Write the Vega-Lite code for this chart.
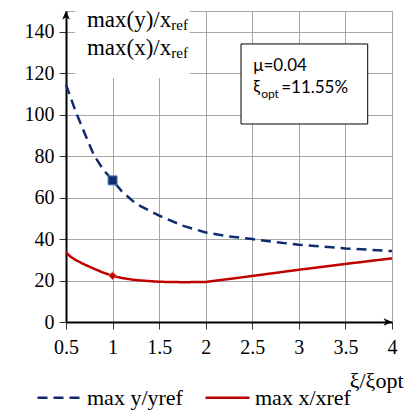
{
  "$schema": "https://vega.github.io/schema/vega-lite/v6.json",
  "width": 326,
  "height": 311,
  "autosize": {"type": "none"},
  "padding": {"left": 66, "top": 11, "right": 14, "bottom": 88},
  "background": "white",
  "view": {"stroke": "#a6a6a6", "strokeWidth": 1},
  "config": {
    "view": {"stroke": "#a6a6a6", "strokeWidth": 1},
    "font": "Liberation Serif",
    "style": {"guide-label": {"font": "Liberation Serif"}, "guide-title": {"font": "Liberation Serif"}},
    "axis": {"labelFont": "Liberation Serif", "titleFont": "Liberation Serif"},
    "legend": {"labelFont": "Liberation Serif"}
  },
  "datasets": {
    "curves": [
      {"r": 0.5, "v": 114.5, "s": "max y/yref"},
      {"r": 0.6, "v": 102, "s": "max y/yref"},
      {"r": 0.7, "v": 91, "s": "max y/yref"},
      {"r": 0.8, "v": 80.5, "s": "max y/yref"},
      {"r": 0.9, "v": 73.5, "s": "max y/yref"},
      {"r": 1.0, "v": 68.3, "s": "max y/yref"},
      {"r": 1.1, "v": 63, "s": "max y/yref"},
      {"r": 1.25, "v": 57, "s": "max y/yref"},
      {"r": 1.5, "v": 51.3, "s": "max y/yref"},
      {"r": 1.75, "v": 46.5, "s": "max y/yref"},
      {"r": 2.0, "v": 43.2, "s": "max y/yref"},
      {"r": 2.25, "v": 41.3, "s": "max y/yref"},
      {"r": 2.5, "v": 40, "s": "max y/yref"},
      {"r": 2.75, "v": 38.5, "s": "max y/yref"},
      {"r": 3.0, "v": 37.3, "s": "max y/yref"},
      {"r": 3.5, "v": 35.5, "s": "max y/yref"},
      {"r": 4.0, "v": 34.2, "s": "max y/yref"},
      {"r": 0.5, "v": 33.5, "s": "max x/xref"},
      {"r": 0.55, "v": 31.5, "s": "max x/xref"},
      {"r": 0.6, "v": 30, "s": "max x/xref"},
      {"r": 0.7, "v": 27.7, "s": "max x/xref"},
      {"r": 0.8, "v": 25.7, "s": "max x/xref"},
      {"r": 0.9, "v": 23.8, "s": "max x/xref"},
      {"r": 1.0, "v": 22.3, "s": "max x/xref"},
      {"r": 1.1, "v": 21.2, "s": "max x/xref"},
      {"r": 1.25, "v": 20.2, "s": "max x/xref"},
      {"r": 1.5, "v": 19.4, "s": "max x/xref"},
      {"r": 1.75, "v": 19.2, "s": "max x/xref"},
      {"r": 2.0, "v": 19.3, "s": "max x/xref"},
      {"r": 2.5, "v": 22.2, "s": "max x/xref"},
      {"r": 3.0, "v": 25.2, "s": "max x/xref"},
      {"r": 3.5, "v": 28, "s": "max x/xref"},
      {"r": 4.0, "v": 30.7, "s": "max x/xref"}
    ],
    "marks": [
      {"r": 1.0, "v": 68.3, "s": "max y/yref"},
      {"r": 1.0, "v": 22.3, "s": "max x/xref"}
    ],
    "one": [{}]
  },
  "layer": [
    {
      "data": {"name": "curves"},
      "mark": {"type": "line", "strokeWidth": 2.5, "interpolate": "linear", "opacity": 0},
      "encoding": {
        "x": {"field": "r", "type": "quantitative", "scale": {"domain": [0.5, 4], "nice": false, "zero": false},
              "axis": {"values": [0.5, 1, 1.5, 2, 2.5, 3, 3.5, 4], "format": "~g", "grid": true, "gridColor": "#a6a6a6", "gridWidth": 1, "gridOpacity": 1,
                       "domain": true, "domainColor": "black", "domainWidth": 2, "ticks": true, "tickColor": "#333333", "tickSize": 7, "tickWidth": 1,
                       "labelFont": "serif", "labelFontSize": 20, "labelColor": "black", "labelPadding": 8, "labelFlush": false, "labelOverlap": false,
                       "title": "ξ/ξopt", "titleFont": "serif", "titleFontSize": 22, "titleFontWeight": "normal", "titleColor": "black", "titleAnchor": "end", "titleAlign": "right", "titleBaseline": "alphabetic", "titleX": 337, "titleY": 65}},
        "y": {"field": "v", "type": "quantitative", "scale": {"domain": [0, 150], "nice": false},
              "axis": {"values": [0, 20, 40, 60, 80, 100, 120, 140], "grid": true, "gridColor": "#a6a6a6", "gridWidth": 1, "gridOpacity": 1,
                       "domain": true, "domainColor": "black", "domainWidth": 2, "ticks": true, "tickColor": "#333333", "tickSize": 7, "tickWidth": 1,
                       "labelFont": "serif", "labelFontSize": 20, "labelColor": "black", "labelPadding": 5, "labelFlush": false, "labelOverlap": false,
                       "title": null}},
        "detail": {"field": "s", "type": "nominal"}
      }
    },
    {
      "data": {"name": "one"},
      "mark": {"type": "rect", "fill": "white", "stroke": null},
      "encoding": {
        "x": {"datum": 0.597, "type": "quantitative"},
        "x2": {"datum": 1.83},
        "y": {"datum": 117.7, "type": "quantitative"},
        "y2": {"datum": 151}
      }
    },
    {
      "data": {"name": "curves"},
      "mark": {"type": "line", "strokeWidth": 2.5, "interpolate": "linear"},
      "encoding": {
        "x": {"field": "r", "type": "quantitative"},
        "y": {"field": "v", "type": "quantitative"},
        "color": {"field": "s", "type": "nominal", "scale": {"domain": ["max y/yref", "max x/xref"], "range": ["#0f2d6e", "#c00000"]},
                  "legend": {"title": null, "orient": "none", "legendX": -30, "legendY": 363, "direction": "horizontal", "labelFont": "serif", "labelFontSize": 22, "labelColor": "black", "symbolType": "stroke", "symbolSize": 1936, "symbolStrokeWidth": 2.5, "columnPadding": 17, "labelOffset": 4, "labelLimit": 300}},
        "strokeDash": {"field": "s", "type": "nominal", "scale": {"domain": ["max y/yref", "max x/xref"], "range": [[10, 6], [1, 0]]},
                  "legend": {"title": null, "orient": "none", "legendX": -30, "legendY": 363, "direction": "horizontal", "labelFont": "serif", "labelFontSize": 22, "labelColor": "black", "symbolType": "stroke", "symbolSize": 1936, "symbolStrokeWidth": 2.5, "columnPadding": 17, "labelOffset": 4, "labelLimit": 300}}
      }
    },
    {
      "data": {"name": "marks"},
      "transform": [{"filter": "datum.s == 'max y/yref'"}],
      "mark": {"type": "square", "size": 81, "filled": true, "fill": "#0f2d6e", "stroke": "#4f81bd", "strokeWidth": 1, "opacity": 1},
      "encoding": {"x": {"field": "r", "type": "quantitative"}, "y": {"field": "v", "type": "quantitative"}}
    },
    {
      "data": {"name": "marks"},
      "transform": [{"filter": "datum.s == 'max x/xref'"}],
      "mark": {"type": "point", "shape": "diamond", "size": 60, "filled": true, "fill": "#c00000", "stroke": "#e07070", "strokeWidth": 1, "opacity": 1},
      "encoding": {"x": {"field": "r", "type": "quantitative"}, "y": {"field": "v", "type": "quantitative"}}
    },
    {
      "data": {"name": "one"},
      "mark": {"type": "point", "shape": "M0,0L-0.55,1.2L0,0.9L0.55,1.2Z", "size": 196, "filled": true, "fill": "black", "stroke": null, "opacity": 1},
      "encoding": {"x": {"datum": 0.5, "type": "quantitative"}, "y": {"datum": 150, "type": "quantitative"}}
    },
    {
      "data": {"name": "one"},
      "mark": {"type": "point", "shape": "M0,0L-1.2,-0.55L-0.9,0L-1.2,0.55Z", "size": 196, "filled": true, "fill": "black", "stroke": null, "opacity": 1},
      "encoding": {"x": {"datum": 4, "type": "quantitative"}, "y": {"datum": 0, "type": "quantitative"}}
    },
    {
      "data": {"name": "one"},
      "mark": {"type": "rect", "fill": "white", "stroke": "black", "strokeWidth": 1},
      "encoding": {
        "x": {"datum": 2.379, "type": "quantitative"},
        "x2": {"datum": 3.739},
        "y": {"datum": 95.5, "type": "quantitative"},
        "y2": {"datum": 134.1}
      }
    },
    {
      "data": {"name": "one"},
      "mark": {"type": "text", "text": "max(y)/x", "font": "Liberation Serif", "fontSize": 23, "align": "left", "baseline": "alphabetic", "color": "black"},
      "encoding": {"x": {"datum": 0.725, "type": "quantitative"}, "y": {"datum": 142.3, "type": "quantitative"}}
    },
    {
      "data": {"name": "one"},
      "mark": {"type": "text", "text": "ref", "font": "Liberation Serif", "fontSize": 15, "align": "left", "baseline": "alphabetic", "color": "black"},
      "encoding": {"x": {"datum": 1.63, "type": "quantitative"}, "y": {"datum": 141, "type": "quantitative"}}
    },
    {
      "data": {"name": "one"},
      "mark": {"type": "text", "text": "max(x)/x", "font": "Liberation Serif", "fontSize": 23, "align": "left", "baseline": "alphabetic", "color": "black"},
      "encoding": {"x": {"datum": 0.725, "type": "quantitative"}, "y": {"datum": 128.8, "type": "quantitative"}}
    },
    {
      "data": {"name": "one"},
      "mark": {"type": "text", "text": "ref", "font": "Liberation Serif", "fontSize": 15, "align": "left", "baseline": "alphabetic", "color": "black"},
      "encoding": {"x": {"datum": 1.63, "type": "quantitative"}, "y": {"datum": 127.5, "type": "quantitative"}}
    },
    {
      "data": {"name": "one"},
      "mark": {"type": "text", "text": "μ=0.04", "font": "Lato", "fontSize": 17, "align": "left", "baseline": "alphabetic", "color": "black"},
      "encoding": {"x": {"datum": 2.511, "type": "quantitative"}, "y": {"datum": 120.9, "type": "quantitative"}}
    },
    {
      "data": {"name": "one"},
      "mark": {"type": "text", "text": "ξ", "font": "Lato", "fontSize": 17, "align": "left", "baseline": "alphabetic", "color": "black"},
      "encoding": {"x": {"datum": 2.511, "type": "quantitative"}, "y": {"datum": 110.5, "type": "quantitative"}}
    },
    {
      "data": {"name": "one"},
      "mark": {"type": "text", "text": "opt", "font": "Lato", "fontSize": 12, "align": "left", "baseline": "alphabetic", "color": "black"},
      "encoding": {"x": {"datum": 2.595, "type": "quantitative"}, "y": {"datum": 108.2, "type": "quantitative"}}
    },
    {
      "data": {"name": "one"},
      "mark": {"type": "text", "text": "=11.55%", "font": "Lato", "fontSize": 17, "align": "left", "baseline": "alphabetic", "color": "black"},
      "encoding": {"x": {"datum": 2.81, "type": "quantitative"}, "y": {"datum": 110.5, "type": "quantitative"}}
    }
  ]
}
